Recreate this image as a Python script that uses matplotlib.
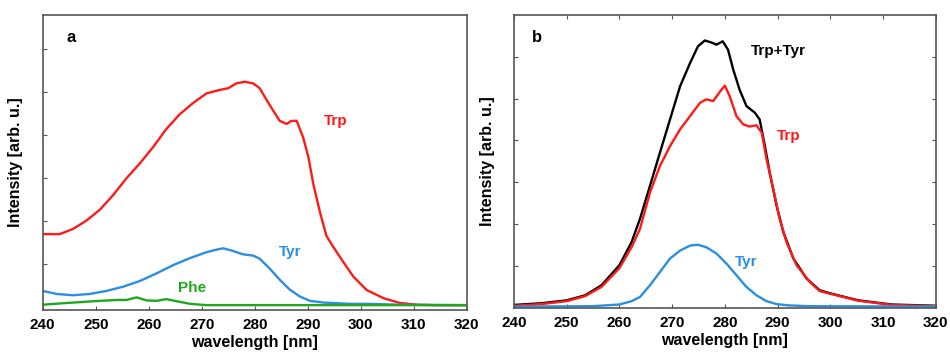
import numpy as np
import matplotlib.pyplot as plt

plt.rcParams['font.family'] = ['Liberation Sans', 'DejaVu Sans']
plt.rcParams['font.weight'] = 'bold'

# panel a: absorption spectra
wl_trp_a = [240.0, 243.2, 245.7, 248.2, 250.8, 253.3, 255.8, 258.3, 260.8, 263.3,
            265.8, 268.4, 270.9, 273.4, 275.0, 276.5, 278.1, 279.7, 280.9, 282.2,
            283.5, 284.7, 286.0, 286.9, 287.9, 289.1, 290.1, 291.0, 292.3, 293.5,
            294.8, 296.7, 298.6, 301.1, 304.3, 307.4, 310.6, 313.7, 320.0]
trp_a = [1.70, 1.70, 1.82, 2.01, 2.27, 2.61, 3.00, 3.34, 3.72, 4.14,
         4.48, 4.75, 4.97, 5.05, 5.09, 5.20, 5.24, 5.20, 5.09, 4.82,
         4.56, 4.33, 4.26, 4.33, 4.33, 3.95, 3.49, 2.88, 2.20, 1.66,
         1.40, 1.05, 0.71, 0.40, 0.21, 0.10, 0.06, 0.05, 0.05]

wl_tyr_a = [240.0, 242.6, 245.7, 248.9, 252.0, 255.2, 258.3, 261.5, 264.6, 267.7,
            270.9, 272.8, 274.0, 275.6, 277.8, 279.7, 280.9, 282.8, 284.7, 286.6,
            288.5, 290.4, 292.9, 298.0, 301.1, 307.4, 320.0]
tyr_a = [0.38, 0.31, 0.28, 0.31, 0.38, 0.48, 0.61, 0.79, 0.98, 1.14,
         1.28, 1.34, 1.37, 1.32, 1.23, 1.20, 1.13, 0.90, 0.64, 0.41,
         0.25, 0.15, 0.11, 0.08, 0.08, 0.06, 0.05]

wl_phe_a = [240.0, 244.5, 250.8, 254.0, 255.8, 257.7, 259.6, 261.5, 263.3, 265.3,
            267.8, 270.9, 320.0]
phe_a = [0.06, 0.10, 0.15, 0.17, 0.17, 0.23, 0.16, 0.15, 0.19, 0.14,
         0.08, 0.05, 0.05]

# panel b: emission spectra
wl_sum_b = [240.0, 245.2, 250.0, 253.5, 256.6, 260.0, 262.3, 263.9, 265.8, 267.7,
            269.6, 271.5, 273.4, 274.9, 276.2, 277.5, 278.4, 279.6, 280.6, 281.6,
            282.8, 284.1, 285.7, 286.6, 287.6, 288.5, 289.8, 291.1, 293.0, 295.5,
            298.0, 300.2, 305.3, 311.6, 320.0]
sum_b = [0.06, 0.10, 0.17, 0.29, 0.53, 1.01, 1.56, 2.12, 2.91, 3.71,
         4.50, 5.29, 5.85, 6.25, 6.39, 6.34, 6.29, 6.37, 6.17, 5.69,
         5.21, 4.82, 4.66, 4.50, 3.86, 3.23, 2.44, 1.80, 1.17, 0.69,
         0.41, 0.33, 0.17, 0.07, 0.04]

wl_trp_b = [240.0, 245.2, 250.0, 253.5, 256.6, 260.0, 262.3, 263.9, 265.8, 267.7,
            269.6, 271.5, 273.4, 275.3, 276.5, 277.8, 279.1, 280.0, 280.9, 282.2,
            283.5, 284.7, 286.0, 287.0, 287.9, 289.2, 290.4, 291.7, 293.6, 296.1,
            298.0, 300.2, 305.3, 311.6, 320.0]
trp_b = [0.04, 0.08, 0.15, 0.27, 0.49, 0.94, 1.44, 1.88, 2.75, 3.39,
         3.86, 4.26, 4.58, 4.90, 4.98, 4.94, 5.17, 5.31, 5.06, 4.58,
         4.38, 4.33, 4.36, 4.18, 3.55, 2.83, 2.12, 1.56, 1.01, 0.61,
         0.39, 0.32, 0.16, 0.06, 0.03]

wl_tyr_b = [240.0, 255.0, 260.0, 262.3, 263.9, 265.8, 267.7, 269.6, 271.5, 273.4,
            274.9, 276.5, 278.4, 280.3, 282.2, 284.1, 286.0, 287.9, 289.8, 292.0,
            295.8, 320.0]
tyr_b = [0.02, 0.03, 0.07, 0.15, 0.25, 0.53, 0.85, 1.17, 1.36, 1.48,
         1.50, 1.44, 1.29, 1.05, 0.77, 0.49, 0.29, 0.15, 0.08, 0.05,
         0.03, 0.02]

xticks = np.arange(240, 321, 10)

red = '#ff1a1a'
blue = '#2a8fe0'
green = '#1fa81f'
spine_col = '#555555'

fig = plt.figure(figsize=(9.5, 3.57), dpi=100)
ax1 = fig.add_axes([0.045, 0.132, 0.4465, 0.826])
ax2 = fig.add_axes([0.541, 0.137, 0.444, 0.821])

# panel a
ax1.plot(wl_trp_a, trp_a, color=red, lw=1.7, solid_joinstyle='round')
ax1.plot(wl_tyr_a, tyr_a, color=blue, lw=1.7, solid_joinstyle='round')
ax1.plot(wl_phe_a, phe_a, color=green, lw=1.7, solid_joinstyle='round')
ax1.text(293.0, 4.33, 'Trp', color=red, fontsize=11, fontweight='bold', va='center')
ax1.text(286.7, 1.28, 'Tyr', color=blue, fontsize=11, fontweight='bold', va='center', ha='center')
ax1.text(268.1, 0.44, 'Phe', color=green, fontsize=11, fontweight='bold', va='center', ha='center')
ax1.text(0.057, 0.925, 'a', transform=ax1.transAxes, fontsize=12, fontweight='bold', va='center')
ax1.set_xlim(240, 320)
ax1.set_ylim(-0.06, 6.79)
ax1.set_yticks([1, 2, 3, 4, 5, 6])
ax1.set_yticklabels([])
ax1.tick_params(direction='in', length=3, width=0.8, color=spine_col, labelsize=11, pad=6)

# panel b
ax2.plot(wl_sum_b, sum_b, color='black', lw=1.7, solid_joinstyle='round')
ax2.plot(wl_trp_b, trp_b, color=red, lw=1.7, solid_joinstyle='round')
ax2.plot(wl_tyr_b, tyr_b, color=blue, lw=1.7, solid_joinstyle='round')
ax2.text(290.2, 6.13, 'Trp+Tyr', color='black', fontsize=11, fontweight='bold', va='center', ha='center')
ax2.text(292.2, 4.10, 'Trp', color=red, fontsize=11, fontweight='bold', va='center', ha='center')
ax2.text(284.1, 1.09, 'Tyr', color=blue, fontsize=11, fontweight='bold', va='center', ha='center')
ax2.text(0.043, 0.924, 'b', transform=ax2.transAxes, fontsize=12, fontweight='bold', va='center')
ax2.set_xlim(240, 320)
ax2.set_ylim(-0.016, 7.0)
ax2.set_yticks([1, 2, 3, 4, 5, 6])
ax2.set_yticklabels([])
ax2.tick_params(direction='in', length=3, width=0.8, color=spine_col, labelsize=11, pad=6,
                top=True, right=True)

for ax in (ax1, ax2):
    ax.set_xticks(xticks)
    ax.set_xticklabels([str(t) for t in xticks], fontweight='bold')
    ax.set_xlabel('wavelength [nm]', fontsize=11.5, fontweight='bold', labelpad=2)
    ax.set_ylabel('Intensity [arb. u.]', fontsize=11.5, fontweight='bold', labelpad=8)
    for s in ax.spines.values():
        s.set_color(spine_col)
        s.set_linewidth(1.2)

fig.savefig('out.png', dpi=100)
